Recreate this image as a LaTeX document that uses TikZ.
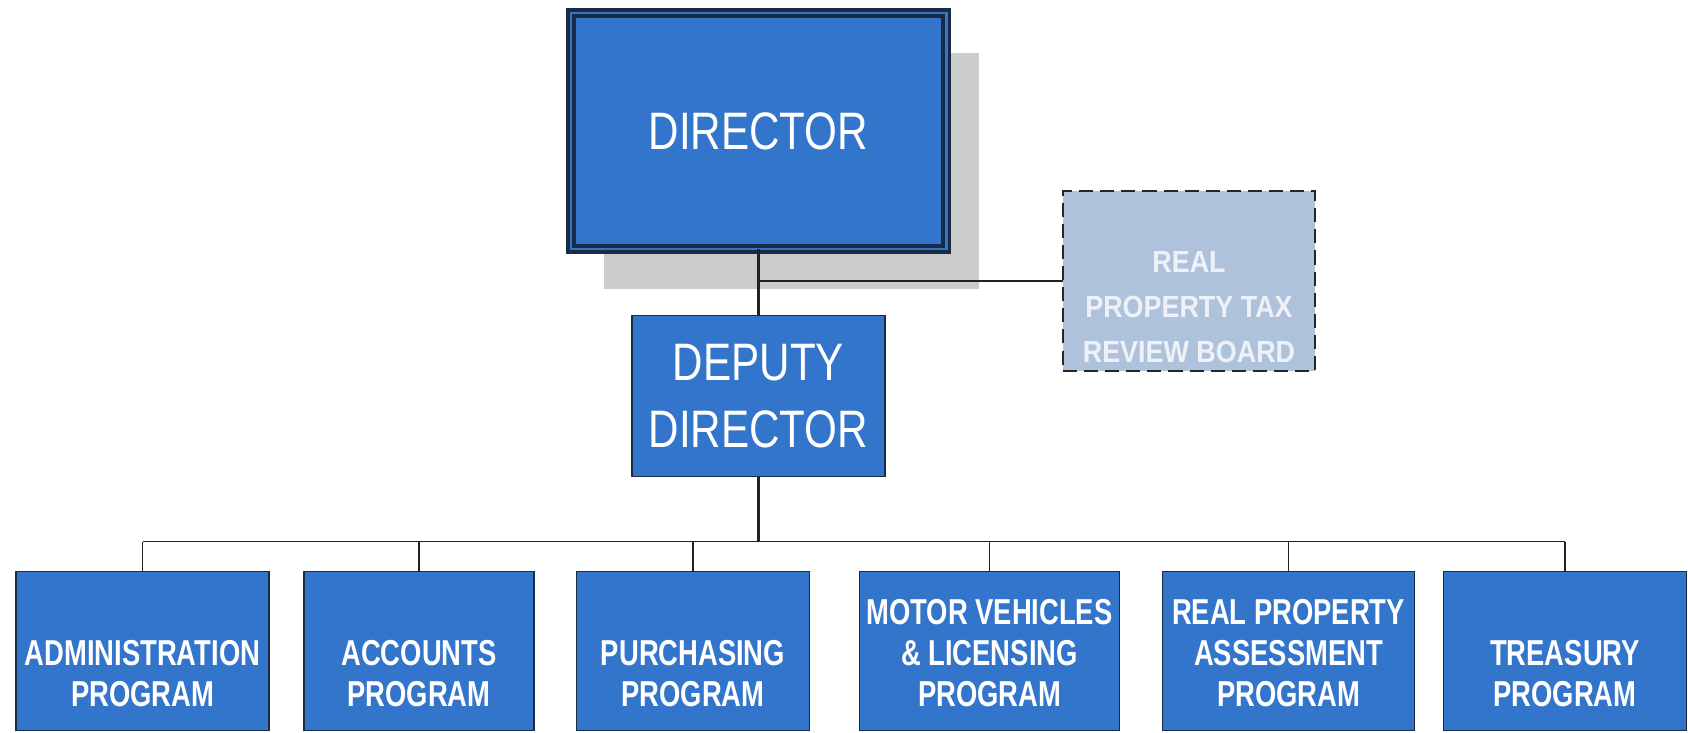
\documentclass[tikz,border=0pt]{standalone}
\usepackage{fontspec}
\setmainfont{Liberation Sans}
\newfontfamily\headfont[FakeStretch=0.8]{Liberation Sans}
\newfontfamily\progfont[FakeStretch=0.76]{Liberation Sans}
\newfontfamily\boardfont[FakeStretch=0.88]{Liberation Sans}
\usetikzlibrary{shadows}

\definecolor{unitblue}{HTML}{3475CC}
\definecolor{unitedge}{HTML}{1C2B45}
\definecolor{boardfill}{HTML}{AFC2DC}
\definecolor{boardtext}{HTML}{EEF2F8}
\definecolor{shadowgray}{HTML}{CCCCCC}
\definecolor{wire}{HTML}{222222}

\begin{document}
\begin{tikzpicture}[
    every node/.style={inner sep=0pt, outer sep=0pt},
    unit/.style={draw=unitedge, line width=0.7pt, fill=unitblue},
    head/.style={unit, line width=1.9pt, double=unitblue, double distance=1.7pt,
        minimum width=7.5cm, minimum height=4.72cm,
        drop shadow={shadow xshift=0.66cm, shadow yshift=-0.8cm, fill=shadowgray, opacity=1}},
    deputy/.style={unit, minimum width=5.06cm, minimum height=3.22cm},
    board/.style={draw=black!85, line width=1.4pt, dash pattern=on 8pt off 4pt,
        fill=boardfill, minimum width=5.04cm, minimum height=3.6cm},
    prog/.style={unit, minimum height=3.18cm},
    headtext/.style={text=white, align=center, font=\headfont\fontsize{30}{38}\selectfont},
    progtext/.style={text=white, align=center, font=\progfont\bfseries\fontsize{20.5}{23.5}\selectfont},
    boardtext/.style={text=boardtext, align=center, font=\boardfont\bfseries\fontsize{17.4}{25.6}\selectfont},
    trunk/.style={draw=wire, line width=1.4pt},
    link/.style={draw=wire, line width=1pt}
]

\useasboundingbox (0,0) rectangle (33.76,-14.66);

% Top of the chart
\node[head, headtext] (director) at (15.17, -2.62) {DIRECTOR};
\node[deputy, headtext] (deputy) at (15.17, -7.92) {DEPUTY\\DIRECTOR};

% Side board
\node[board] (board) at (23.78, -5.62) {};
\node[boardtext, anchor=south] (board-t) at (23.78, -7.26) {REAL\\PROPERTY TAX\\REVIEW BOARD};

\draw[trunk] (director.south) -- (deputy.north);
\coordinate (tap) at (director.south |- board.west);
\draw[link] (tap) -- (board.west);

% Programs
\draw[trunk] (deputy.south) -- ++(0,-1.3) coordinate (hub);
\foreach \name/\x/\w/\txt in {
    admin/2.85/5.06/{ADMINISTRATION\\PROGRAM},
    accounts/8.38/4.6/{ACCOUNTS\\PROGRAM},
    purchasing/13.86/4.66/{PURCHASING\\PROGRAM},
    motor/19.79/5.2/{MOTOR VEHICLES\\\& LICENSING\\PROGRAM},
    assessment/25.77/5.04/{REAL PROPERTY\\ASSESSMENT\\PROGRAM},
    treasury/31.3/4.86/{TREASURY\\PROGRAM}} {
    \node[prog, minimum width=\w cm] (\name) at (\x, -13.02) {};
    \node[progtext, anchor=south] (\name-t) at (\x, -14.14) {\txt};
    \draw[link] (\name.north) -- (\name.north |- hub);
}
\draw[link] (admin.north |- hub) -- (treasury.north |- hub);

\end{tikzpicture}
\end{document}
